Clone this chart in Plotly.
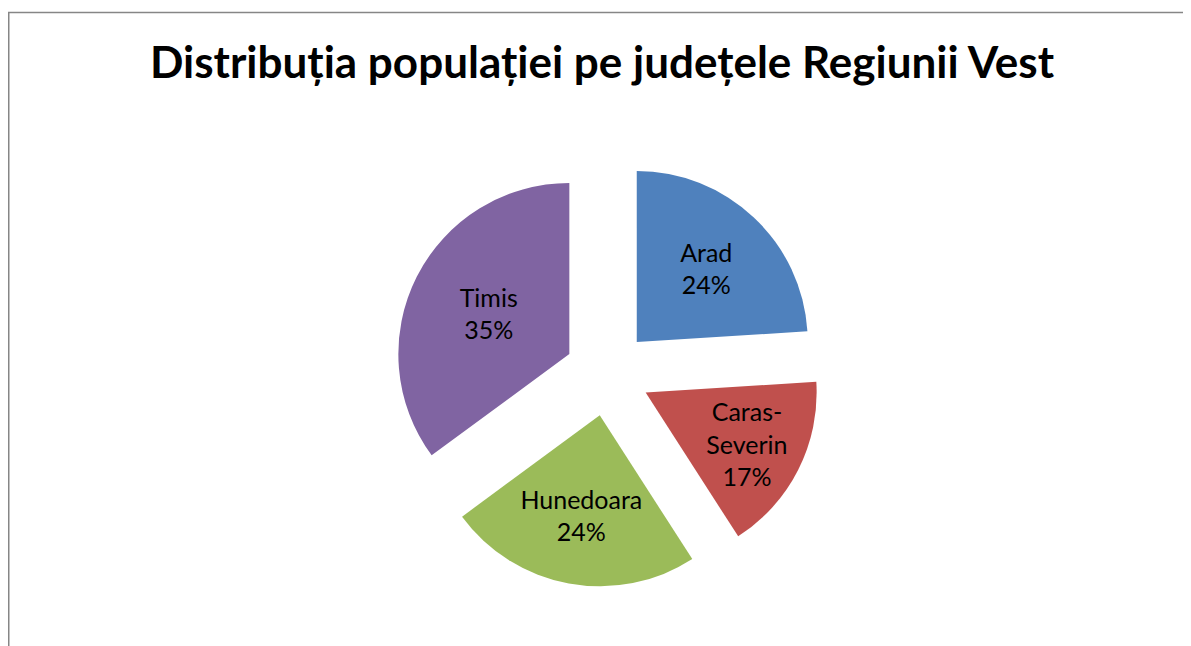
import plotly.graph_objects as go

counties = ["Arad", "Caras-Severin", "Hunedoara", "Timis"]
display_names = ["Arad", "Caras-<br>Severin", "Hunedoara", "Timis"]
shares = [24.0, 16.9, 24.0, 35.1]
colors = ["#4F81BD", "#C0504D", "#9BBB59", "#8064A2"]
title_text = "Distribuția populației pe județele Regiunii Vest"

# page body keeps its default 8px margin, so the figure is 8px smaller
W, H = 1183, 638

fig = go.Figure(
    go.Pie(
        labels=counties,
        values=shares,
        customdata=display_names,
        sort=False,
        direction="clockwise",
        rotation=0,
        pull=[0.25] * len(counties),
        marker=dict(colors=colors, line=dict(width=0)),
        texttemplate="%{customdata}<br>%{percent:.0%}",
        textposition="inside",
        insidetextorientation="horizontal",
        textfont=dict(family="Lato", size=25, color="black"),
        hoverinfo="label+percent",
        domain=dict(x=[292 / W, 907 / W], y=[(H - 579) / H, (H - 151.5) / H]),
        showlegend=False,
    )
)

fig.update_layout(
    width=W,
    height=H,
    margin=dict(l=0, r=0, t=0, b=0),
    paper_bgcolor="white",
    plot_bgcolor="white",
    uniformtext=dict(mode="show", minsize=25),
    title=dict(
        text="<b>" + title_text + "</b>",
        font=dict(family="Lato", size=44, color="black"),
        x=594 / W,
        xanchor="center",
        xref="paper",
        y=1 - 54.5 / H,
        yref="container",
        yanchor="middle",
    ),
    shapes=[
        dict(
            type="rect",
            xref="paper",
            yref="paper",
            x0=0.75 / W,
            x1=1.05,
            y0=-0.05,
            y1=1 - 4.5 / H,
            line=dict(color="#868686", width=1.5),
            fillcolor="rgba(0,0,0,0)",
            layer="below",
        )
    ],
)

fig.write_html("out.html")
